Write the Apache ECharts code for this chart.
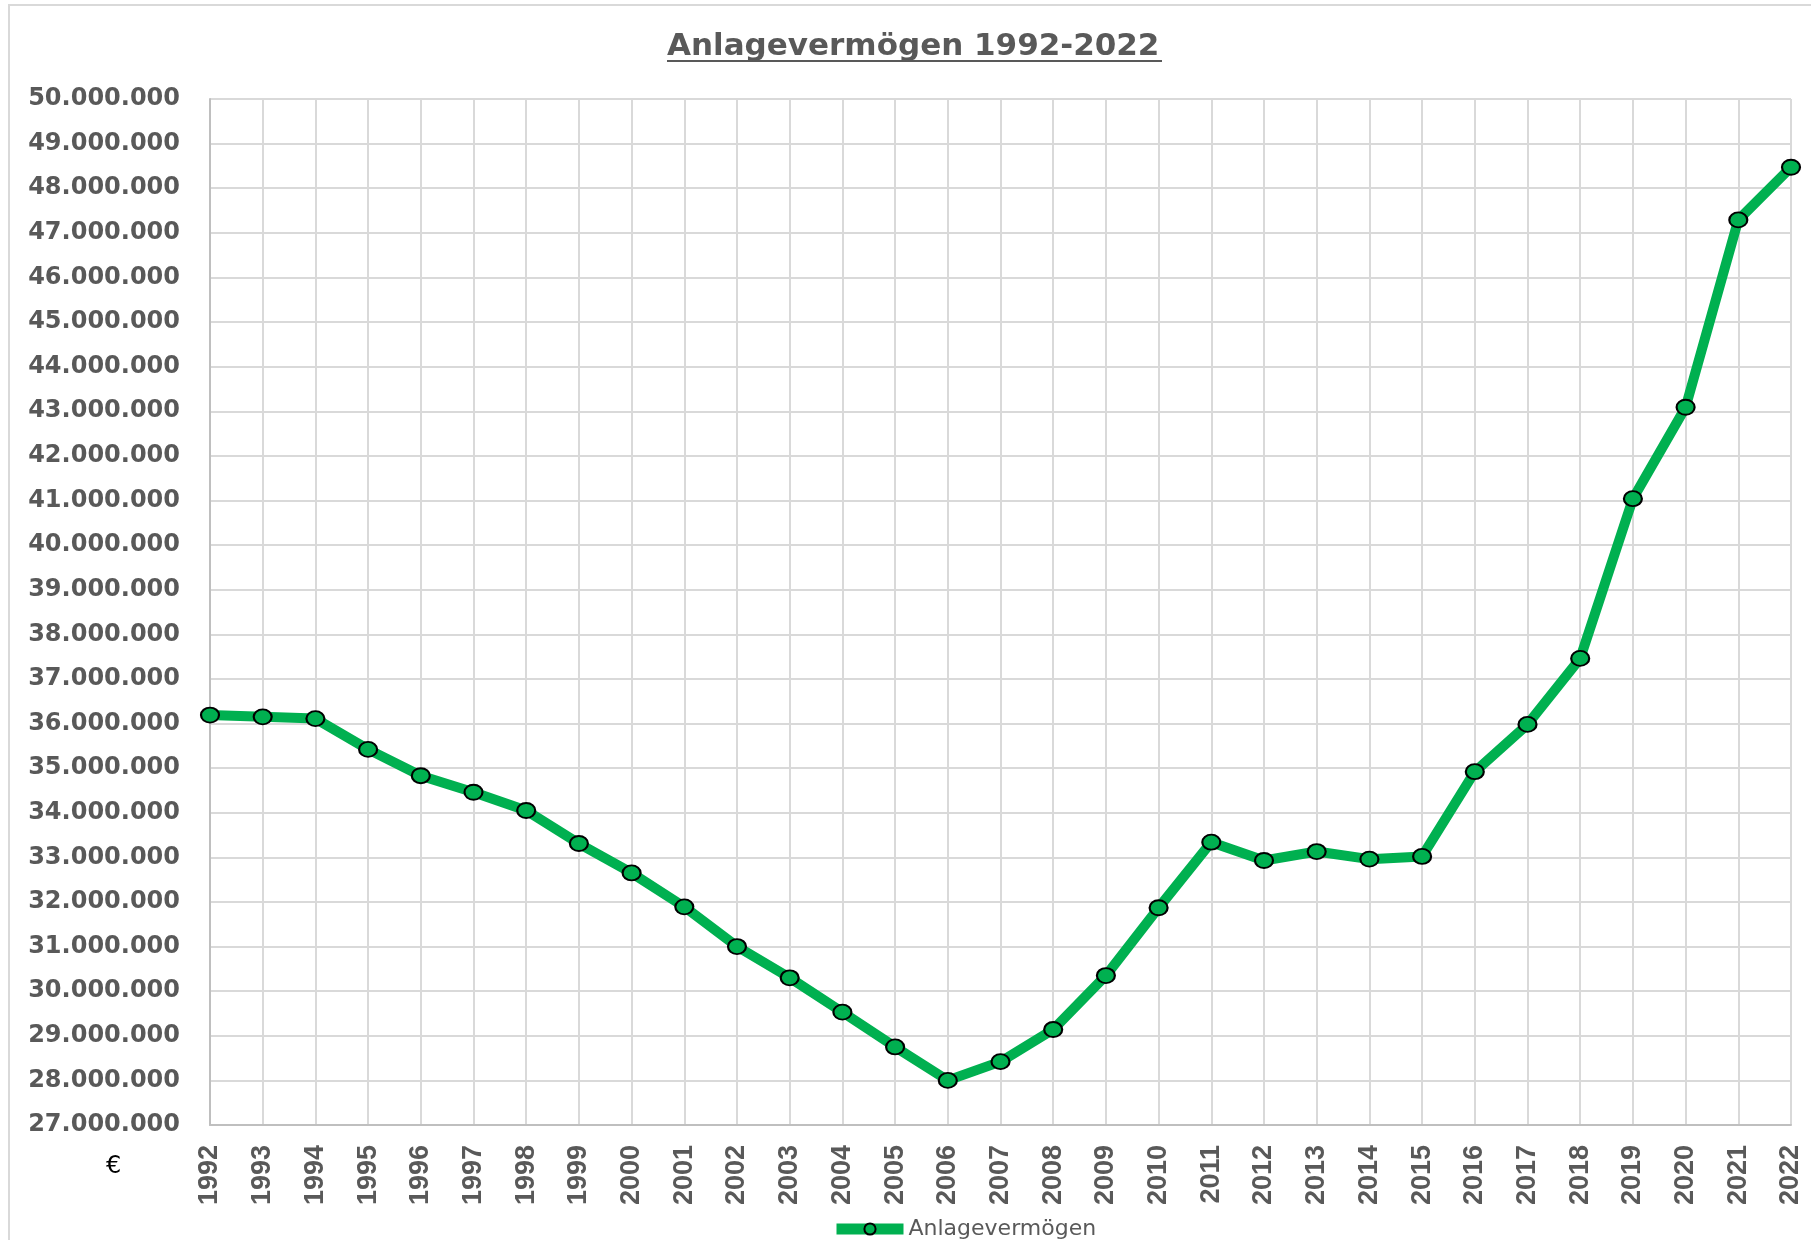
<!DOCTYPE html>
<html>
<head>
<meta charset="utf-8">
<title>Anlagevermögen 1992-2022</title>
<script src="https://cdn.jsdelivr.net/npm/echarts@6.0.0/dist/echarts.min.js"></script>
<style>
    html, body {margin: 0; padding: 0; background: #ffffff;}
    #chart1 {width: 1811px; height: 1240px;}
</style>
</head>
<body>
<div id="chart1"></div>
<script>
var years = ['1992', '1993', '1994', '1995', '1996', '1997', '1998', '1999', '2000', '2001',
    '2002', '2003', '2004', '2005', '2006', '2007', '2008', '2009', '2010', '2011',
    '2012', '2013', '2014', '2015', '2016', '2017', '2018', '2019', '2020', '2021', '2022'];

// Anlagevermögen in €
var anlagevermoegen = [36190000, 36150000, 36110000, 35420000, 34830000, 34460000, 34050000, 33310000,
    32650000, 31890000, 31000000, 30300000, 29530000, 28750000, 28000000, 28420000, 29140000,
    30350000, 31870000, 33340000, 32930000, 33130000, 32960000, 33020000, 34920000, 35980000,
    37460000, 41040000, 43090000, 47290000, 48470000];

var yMin = 27000000;
var yMax = 50000000;
var yStep = 1000000;

function punkte(v) {
    return String(v).replace(/\B(?=(\d{3})+(?!\d))/g, '.');
}

var chart1 = echarts.init(document.getElementById('chart1'));
var option = {
    backgroundColor: '#ffffff',
    animation: false,
    title: [{
        text: 'Anlagevermögen 1992-2022',
        left: 662,
        top: 26,
        textStyle: {
            color: '#595959',
            fontFamily: 'DejaVu Sans',
            fontWeight: 'bold',
            fontSize: 31
        }
    }, {
        text: '€',
        left: 101,
        top: 1150,
        textStyle: {
            color: '#000000',
            fontFamily: 'DejaVu Sans',
            fontWeight: 'normal',
            fontSize: 24
        }
    }],
    graphic: [{
        type: 'rect',
        shape: {x: 9, y: 5, width: 1840, height: 1280},
        style: {fill: 'none', stroke: '#D9D9D9', lineWidth: 2},
        silent: true
    }, {
        type: 'line',
        shape: {x1: 667, y1: 61, x2: 1162, y2: 61},
        style: {stroke: '#595959', lineWidth: 2},
        silent: true
    }],
    legend: {
        left: 826,
        top: 1213,
        itemWidth: 67,
        itemHeight: 14,
        lineStyle: {color: '#00B050', width: 11},
        textStyle: {
            color: '#595959',
            fontFamily: 'DejaVu Sans',
            fontSize: 22
        },
        data: ['Anlagevermögen']
    },
    grid: {
        left: 210,
        right: 20,
        top: 99,
        bottom: 115
    },
    xAxis: {
        type: 'category',
        boundaryGap: false,
        data: years,
        axisLine: {
            lineStyle: {color: '#BFBFBF', width: 2}
        },
        axisTick: {show: false},
        splitLine: {
            show: true,
            lineStyle: {color: '#D9D9D9', width: 2}
        },
        axisLabel: {
            rotate: 90,
            margin: 20,
            interval: 0,
            color: '#595959',
            fontFamily: "'Liberation Sans Narrow', 'Liberation Sans'",
            fontWeight: 'bold',
            fontSize: 27
        }
    },
    yAxis: {
        type: 'value',
        min: yMin,
        max: yMax,
        interval: yStep,
        axisLine: {
            show: true,
            lineStyle: {color: '#BFBFBF', width: 2}
        },
        axisTick: {show: false},
        splitLine: {
            show: true,
            lineStyle: {color: '#D9D9D9', width: 2}
        },
        axisLabel: {
            margin: 30,
            color: '#595959',
            fontFamily: 'DejaVu Sans',
            fontWeight: 'bold',
            fontSize: 24,
            formatter: punkte
        }
    },
    series: [{
        name: 'Anlagevermögen',
        type: 'line',
        data: anlagevermoegen,
        symbol: 'circle',
        symbolSize: [18, 15],
        showAllSymbol: true,
        lineStyle: {color: '#00B050', width: 10},
        itemStyle: {
            color: '#00B050',
            borderColor: '#000000',
            borderWidth: 2
        }
    }]
};
chart1.setOption(option);
</script>
</body>
</html>
